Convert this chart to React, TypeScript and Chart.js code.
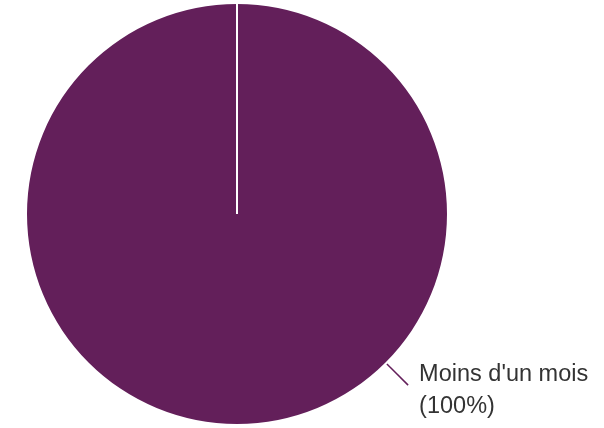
import React, { useEffect, useRef } from "react";
import { Chart, registerables } from "chart.js";

Chart.register(...registerables);

const categories: string[] = ["Moins d'un mois"];
const values: number[] = [100];
const sliceColors: string[] = ["#631f5a"];

const labelPlugin = {
  id: "pieLabels",
  afterDatasetsDraw(chart: any) {
    const ctx = chart.ctx;
    const meta = chart.getDatasetMeta(0);
    const total = values.reduce((a, b) => a + b, 0);
    meta.data.forEach((arc: any, i: number) => {
      const { x, y, startAngle, endAngle, outerRadius } = arc.getProps(
        ["x", "y", "startAngle", "endAngle", "outerRadius"],
        true
      );
      // white separator line
      ctx.save();
      ctx.strokeStyle = "#ffffff";
      ctx.lineWidth = 2;
      ctx.beginPath();
      ctx.moveTo(x, y);
      ctx.lineTo(x + Math.cos(startAngle) * outerRadius, y + Math.sin(startAngle) * outerRadius);
      ctx.stroke();
      ctx.restore();

      // leader line + label
      const mid = Math.PI / 4;
      const a1 = outerRadius + 2;
      const a2 = outerRadius + 32;
      ctx.save();
      ctx.strokeStyle = sliceColors[i];
      ctx.lineWidth = 1.5;
      ctx.beginPath();
      ctx.moveTo(x + Math.cos(mid) * a1, y + Math.sin(mid) * a1);
      ctx.lineTo(x + Math.cos(mid) * a2, y + Math.sin(mid) * a2);
      ctx.stroke();
      const tx = x + Math.cos(mid) * a2 + 11;
      const ty = y + Math.sin(mid) * a2;
      ctx.fillStyle = "#333333";
      ctx.font = '23.5px "Liberation Sans", Arial, sans-serif';
      ctx.textAlign = "left";
      ctx.textBaseline = "alphabetic";
      const pct = Math.round((values[i] / total) * 100);
      ctx.fillText(categories[i], tx, ty - 4);
      ctx.fillText("(" + pct + "%)", tx, ty + 28);
      ctx.restore();
    });
  },
};

export default function App() {
  const ref = useRef<HTMLCanvasElement | null>(null);
  useEffect(() => {
    document.body.style.margin = "0";
    if (!ref.current) return;
    const chart = new Chart(ref.current, {
      type: "pie",
      data: {
        labels: categories,
        datasets: [
          {
            data: values,
            backgroundColor: sliceColors,
            borderWidth: 0,
          },
        ],
      },
      options: {
        animation: false,
        responsive: false,
        maintainAspectRatio: false,
        layout: { padding: { left: 27, right: 157, top: 4, bottom: 4 } },
        plugins: {
          legend: { display: false },
          tooltip: { enabled: false },
        },
      },
      plugins: [labelPlugin],
    });
    return () => chart.destroy();
  }, []);
  return (
    <div style={{ width: 604, height: 428, position: "relative" }}>
      <canvas ref={ref} width={604} height={428} style={{ display: "block" }} />
    </div>
  );
}
